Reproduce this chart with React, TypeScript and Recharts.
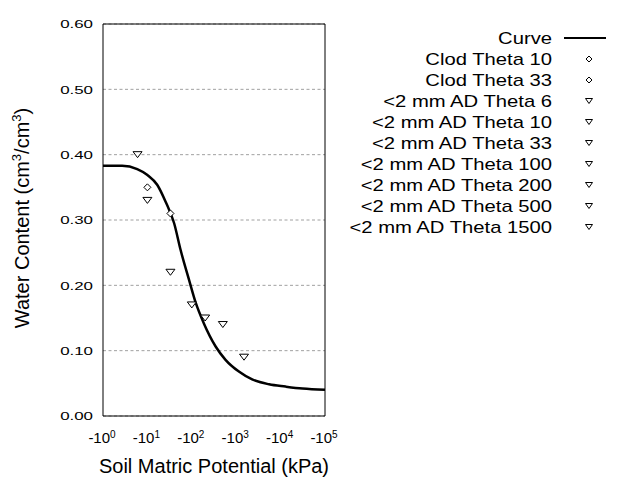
import React from 'react';
import { ComposedChart, Line, Scatter, XAxis, YAxis, CartesianGrid } from 'recharts';

// Fitted retention curve (matric potential in kPa, magnitude) and water content
const curveKpa = [1, 2.7, 5.9, 10, 16.6, 25.7, 40, 56, 87, 123, 186, 347, 575, 1150, 2290, 5500, 12900, 31000, 100000];
const curveTheta = [0.383, 0.383, 0.378, 0.369, 0.354, 0.328, 0.295, 0.254, 0.208, 0.173, 0.142, 0.106, 0.086, 0.068, 0.056, 0.0485, 0.045, 0.042, 0.04];

// Clod measurements (diamonds)
const clodLabels = ['Clod Theta 10', 'Clod Theta 33'];
const clodKpa = [10, 33];
const clodTheta = [0.35, 0.31];

// <2 mm air-dry measurements (triangles)
const adLabels = [
  '<2 mm AD Theta 6',
  '<2 mm AD Theta 10',
  '<2 mm AD Theta 33',
  '<2 mm AD Theta 100',
  '<2 mm AD Theta 200',
  '<2 mm AD Theta 500',
  '<2 mm AD Theta 1500',
];
const adKpa = [6, 10, 33, 100, 200, 500, 1500];
const adTheta = [0.4, 0.33, 0.22, 0.17, 0.15, 0.14, 0.09];

const curveLabel = 'Curve';
const xTicks = [1, 10, 100, 1000, 10000, 100000];
const yTicks = [0, 0.1, 0.2, 0.3, 0.4, 0.5, 0.6];
const xTitle = 'Soil Matric Potential (kPa)';

const FONT = '"Liberation Sans", Arial, sans-serif';

const curveData = curveKpa.map((x, i) => ({ x, y: curveTheta[i] }));

type Series = { name: string; kind: 'diamond' | 'tri'; data: { x: number; y: number }[] };
const markerSeries: Series[] = [
  ...clodLabels.map((name, i) => ({ name, kind: 'diamond' as const, data: [{ x: clodKpa[i], y: clodTheta[i] }] })),
  ...adLabels.map((name, i) => ({ name, kind: 'tri' as const, data: [{ x: adKpa[i], y: adTheta[i] }] })),
];

const diamondPts = (cx: number, cy: number, r: number) =>
  `${cx},${cy - r} ${cx + r},${cy} ${cx},${cy + r} ${cx - r},${cy}`;
const triPts = (cx: number, cy: number, w: number, h: number) =>
  `${cx - w},${cy - h} ${cx + w},${cy - h} ${cx},${cy + h}`;

const DiamondShape = (p: any) => (
  <polygon points={diamondPts(p.cx, p.cy, 3.5)} fill="#fff" stroke="#000" strokeWidth={1} />
);
const TriShape = (p: any) => (
  <polygon points={triPts(p.cx, p.cy, 4.5, 3)} fill="#fff" stroke="#000" strokeWidth={1} />
);

const YTick = (p: any) => {
  const { x, y, payload } = p;
  return (
    <g transform={`translate(${x},${y})`}>
      <text transform="scale(1.47,1)" x={0} y={4.2} textAnchor="end" fontSize={11.5} fill="#000" fontFamily={FONT}>
        {Number(payload.value).toFixed(2)}
      </text>
    </g>
  );
};

const XTick = (p: any) => {
  const { x, y, payload } = p;
  const exp = Math.round(Math.log10(payload.value));
  return (
    <text x={x - 1} y={y + 19} textAnchor="middle" fontSize={15} fill="#000" fontFamily={FONT}>
      -10
      <tspan dy={-5} fontSize={10}>
        {exp}
      </tspan>
    </text>
  );
};

const YLabel = (p: any) => {
  const vb = p.viewBox || { x: 0, y: 24, width: 103, height: 392 };
  const cx = vb.x + 29;
  const cy = vb.y + vb.height / 2 - 2;
  return (
    <text transform={`rotate(-90 ${cx} ${cy})`} x={cx} y={cy} textAnchor="middle" fontSize={20} fill="#000" fontFamily={FONT}>
      Water Content (cm
      <tspan dy={-8} fontSize={13}>3</tspan>
      <tspan dy={8}>/cm</tspan>
      <tspan dy={-8} fontSize={13}>3</tspan>
      <tspan dy={8}>)</tspan>
    </text>
  );
};

const LegendOverlay = () => {
  const rightX = 552;
  const markX = 589;
  const rows = [{ name: curveLabel, kind: 'line' as const }, ...markerSeries.map((s) => ({ name: s.name, kind: s.kind }))];
  return (
    <svg width={640} height={480} style={{ position: 'absolute', left: 0, top: 0, pointerEvents: 'none' }}>
      {rows.map((r, i) => {
        const cy = 38 + i * 21;
        return (
          <g key={r.name}>
            <g transform={`translate(${rightX},${cy + 6})`}>
              <text transform="scale(1.19,1)" x={0} y={0} textAnchor="end" fontSize={17} fill="#000" fontFamily={FONT}>
                {r.name}
              </text>
            </g>
            {r.kind === 'line' && <line x1={564} x2={606} y1={cy} y2={cy} stroke="#000" strokeWidth={2} />}
            {r.kind === 'diamond' && <polygon points={diamondPts(markX, cy, 3)} fill="#fff" stroke="#000" strokeWidth={1} />}
            {r.kind === 'tri' && <polygon points={triPts(markX, cy, 3.5, 2.5)} fill="#fff" stroke="#000" strokeWidth={1} />}
          </g>
        );
      })}
    </svg>
  );
};

export default function App() {
  return (
    <div style={{ position: 'absolute', left: 0, top: 0, width: 640, height: 480, background: '#fff' }}>
      <ComposedChart
        width={640}
        height={480}
        margin={{ top: 24, right: 315, bottom: 0, left: 0 }}
        style={{ fontFamily: FONT }}
      >
        <CartesianGrid
          xAxisId="x"
          yAxisId="y"
          vertical={false}
          horizontal
          stroke="#a0a0a0"
          strokeDasharray="3 2.5"
        />
        <XAxis
          xAxisId="x"
          dataKey="x"
          type="number"
          scale="log"
          domain={[1, 100000]}
          allowDataOverflow
          ticks={xTicks}
          interval={0}
          height={64}
          stroke="#000"
          axisLine={{ stroke: '#000' }}
          tickLine={false}
          tickSize={6}
          tickMargin={2}
          tick={<XTick />}
          label={{ value: xTitle, position: 'insideBottom', offset: 7, fontSize: 20, fill: '#000', fontFamily: FONT }}
        />
        <XAxis
          xAxisId="xin"
          dataKey="x"
          type="number"
          scale="log"
          domain={[1, 100000]}
          allowDataOverflow
          ticks={xTicks}
          interval={0}
          mirror
          axisLine={false}
          tick={false}
          tickSize={4}
          tickLine={{ stroke: '#000' }}
          stroke="#000"
        />
        <XAxis
          xAxisId="top"
          orientation="top"
          dataKey="x"
          type="number"
          scale="log"
          domain={[1, 100000]}
          allowDataOverflow
          ticks={xTicks}
          interval={0}
          mirror
          axisLine={{ stroke: '#000' }}
          tick={false}
          tickSize={4}
          tickLine={{ stroke: '#000' }}
          stroke="#000"
        />
        <YAxis
          yAxisId="y"
          type="number"
          domain={[0, 0.6]}
          allowDataOverflow
          ticks={yTicks}
          interval={0}
          width={103}
          stroke="#000"
          axisLine={{ stroke: '#000' }}
          tickLine={false}
          tickSize={6}
          tickMargin={4}
          tick={<YTick />}
          label={<YLabel />}
        />
        <YAxis
          yAxisId="yin"
          type="number"
          domain={[0, 0.6]}
          allowDataOverflow
          ticks={yTicks}
          interval={0}
          mirror
          axisLine={false}
          tick={false}
          tickSize={4}
          tickLine={{ stroke: '#000' }}
          stroke="#000"
        />
        <YAxis
          yAxisId="right"
          orientation="right"
          type="number"
          domain={[0, 0.6]}
          allowDataOverflow
          ticks={yTicks}
          interval={0}
          mirror
          axisLine={{ stroke: '#000' }}
          tick={false}
          tickSize={4}
          tickLine={{ stroke: '#000' }}
          stroke="#000"
        />
        <Line
          xAxisId="x"
          yAxisId="y"
          data={curveData}
          dataKey="y"
          name={curveLabel}
          type="monotone"
          stroke="#000"
          strokeWidth={2.5}
          dot={false}
          activeDot={false}
          isAnimationActive={false}
        />
        {markerSeries.map((s) => (
          <Scatter
            key={s.name}
            xAxisId="x"
            yAxisId="y"
            data={s.data}
            dataKey="y"
            name={s.name}
            shape={s.kind === 'diamond' ? DiamondShape : TriShape}
            isAnimationActive={false}
          />
        ))}
      </ComposedChart>
      <LegendOverlay />
    </div>
  );
}
